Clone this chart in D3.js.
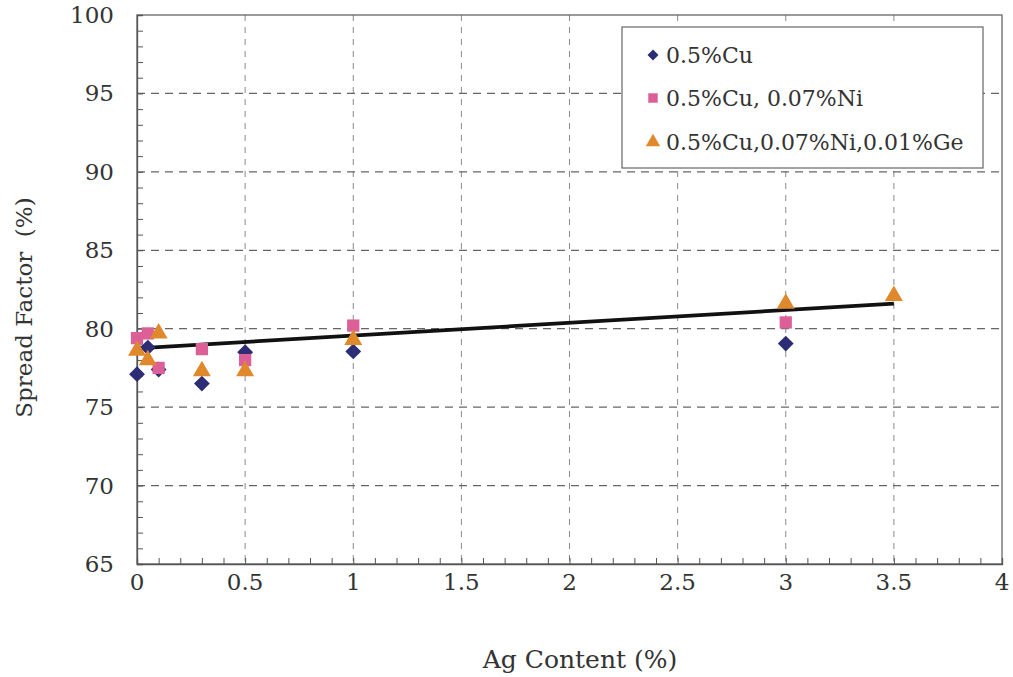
<!DOCTYPE html>
<html><head><meta charset="utf-8">
<script src="https://cdn.jsdelivr.net/npm/d3@7"></script>
<style>body{margin:0;background:#fff}svg{display:block}text{font-family:"DejaVu Serif",serif;fill:#333}</style>
</head><body>
<svg id="c" width="1013" height="677"></svg>
<script>
const seriesNames = ["0.5%Cu", "0.5%Cu, 0.07%Ni", "0.5%Cu,0.07%Ni,0.01%Ge"];
const cuX = [0, 0.05, 0.1, 0.3, 0.5, 1, 3];
const cuY = [77.1, 78.8, 77.4, 76.5, 78.5, 78.55, 79.05];
const niX = [0, 0.05, 0.1, 0.3, 0.5, 1, 3];
const niY = [79.4, 79.7, 77.5, 78.7, 78.0, 80.2, 80.4];
const geX = [0, 0.05, 0.1, 0.3, 0.5, 1, 3, 3.5];
const geY = [78.6, 78.0, 79.7, 77.3, 77.3, 79.3, 81.6, 82.1];
const trendX = [0, 3.5];
const trendY = [78.75, 81.6];
const xTicks = [0, 0.5, 1, 1.5, 2, 2.5, 3, 3.5, 4];
const yTicks = [65, 70, 75, 80, 85, 90, 95, 100];
const xTitle = "Ag Content (%)";
const yTitle = "Spread Factor\u00a0\u00a0(%)";

const svg = d3.select("#c");
const L = 137, R = 1002, T = 15, B = 564;
const x = d3.scaleLinear().domain([0, 4]).range([L, R]);
const y = d3.scaleLinear().domain([65, 100]).range([B, T]);
const colors = ["#2d2d75", "#dc5f98", "#e0882c"];
const gridC = "#666", axisC = "#555";

// gridlines
svg.append("g").selectAll("line").data(xTicks.filter(d => d > 0 && d < 4)).join("line")
  .attr("x1", d => x(d)).attr("x2", d => x(d)).attr("y1", T).attr("y2", B)
  .attr("stroke", "#888").attr("stroke-width", 1).attr("stroke-dasharray", "6,6");
svg.append("g").selectAll("line").data(yTicks.filter(d => d > 65 && d < 100)).join("line")
  .attr("x1", L).attr("x2", R).attr("y1", d => y(d)).attr("y2", d => y(d))
  .attr("stroke", gridC).attr("stroke-width", 1.2).attr("stroke-dasharray", "8,6");

// frame
svg.append("rect").attr("x", L).attr("y", T).attr("width", R - L).attr("height", B - T)
  .attr("fill", "none").attr("stroke", "#666").attr("stroke-width", 1.3);

// axes with inside ticks
const xAxis = d3.axisBottom(x).tickValues(d3.range(0, 40.5, 1).map(d => d / 10)).tickSize(-6).tickFormat("");
const gx = svg.append("g").attr("transform", `translate(0,${B})`).call(xAxis);
gx.selectAll("path").attr("stroke", axisC).attr("stroke-width", 1.3);
gx.selectAll("line").attr("stroke", axisC);
const yAxis = d3.axisLeft(y).tickValues(d3.range(65, 100.5, 1)).tickSize(-6).tickFormat("");
const gy = svg.append("g").attr("transform", `translate(${L},0)`).call(yAxis);
gy.selectAll("path").attr("stroke", axisC).attr("stroke-width", 1.3);
gy.selectAll("line").attr("stroke", axisC);

// tick labels
svg.append("g").selectAll("text").data(xTicks).join("text")
  .attr("x", d => x(d)).attr("y", 590).attr("text-anchor", "middle")
  .attr("font-size", 23).text(d => d3.format("")(d));
svg.append("g").selectAll("text").data(yTicks).join("text")
  .attr("x", 114).attr("y", d => y(d) + 8).attr("text-anchor", "end")
  .attr("font-size", 23).text(d => d);

// titles
svg.append("text").attr("x", 580).attr("y", 668).attr("text-anchor", "middle")
  .attr("font-size", 25).text(xTitle);
svg.append("text").attr("transform", `translate(32,${(T + B) / 2 + 18}) rotate(-90)`)
  .attr("text-anchor", "middle").attr("font-size", 23).text(yTitle);

// trend line
svg.append("path").datum(trendX.map((d, i) => [d, trendY[i]]))
  .attr("d", d3.line().x(d => x(d[0])).y(d => y(d[1])))
  .attr("stroke", "#111").attr("stroke-width", 3.8).attr("fill", "none");

const sym = [d3.symbolSquare, d3.symbolSquare, d3.symbolTriangle];
const rot = [45, 0, 0];
const sizes = [125, 150, 140];
const series = [[cuX, cuY], [niX, niY], [geX, geY]];
series.forEach(([xs, ys], k) => {
  svg.append("g").selectAll("path").data(xs.map((d, i) => [d, ys[i]])).join("path")
    .attr("transform", d => `translate(${x(d[0])},${y(d[1])}) rotate(${rot[k]})`)
    .attr("d", d3.symbol().type(sym[k]).size(sizes[k])).attr("fill", colors[k]);
});

// legend
const lg = svg.append("g");
lg.append("rect").attr("x", 622).attr("y", 27).attr("width", 361).attr("height", 141)
  .attr("fill", "#fff").attr("stroke", "#666").attr("stroke-width", 1.2);
const rowsY = [55, 98, 142];
const lsizes = [60, 90, 90];
seriesNames.forEach((n, k) => {
  lg.append("path").attr("transform", `translate(653,${rowsY[k]}) rotate(${rot[k]})`)
    .attr("d", d3.symbol().type(sym[k]).size(lsizes[k])).attr("fill", colors[k]);
  lg.append("text").attr("x", 666).attr("y", rowsY[k] + 8).attr("font-size", 22).text(n);
});
</script>
</body></html>
